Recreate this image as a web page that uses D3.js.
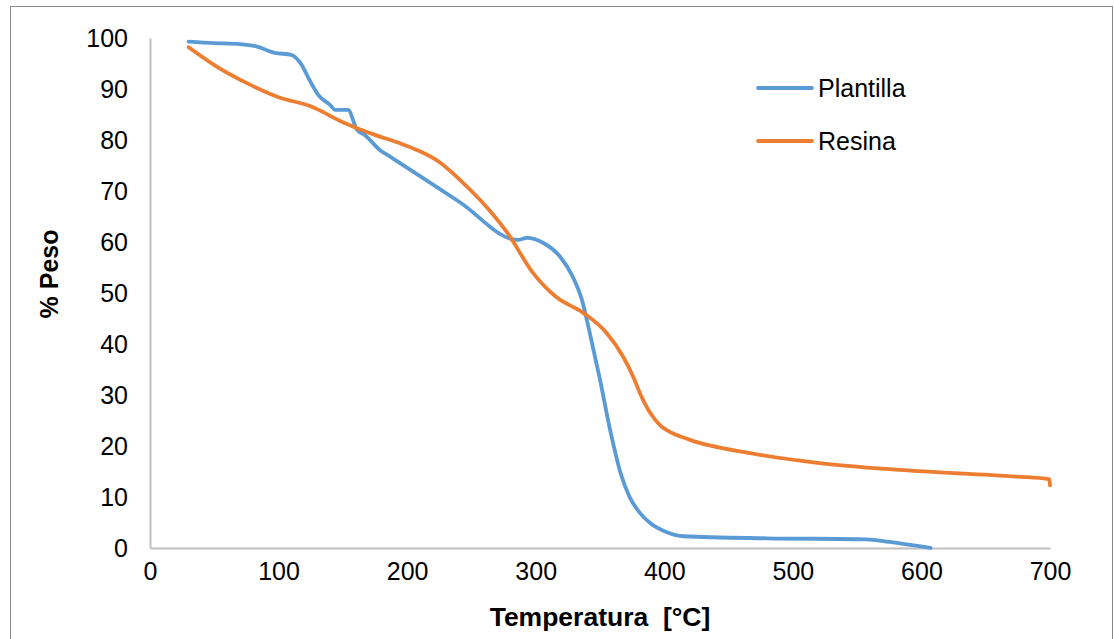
<!DOCTYPE html>
<html>
<head>
<meta charset="utf-8">
<script src="https://cdn.jsdelivr.net/npm/d3@7"></script>
<style>
  html, body { margin: 0; padding: 0; background: #fff; }
  svg text { font-family: "Liberation Sans", Arial, sans-serif; fill: #000; white-space: pre; }
</style>
</head>
<body>
<svg id="chart" width="1114" height="639"></svg>
<script>
// Data
const plantillaTemp = [30, 50, 70, 82, 97, 110, 118, 124, 131, 140, 144, 154, 161, 167, 179, 187, 241, 286, 293, 306, 319, 329, 336, 342, 350, 358, 366, 373, 381, 389, 402, 415, 480, 557, 575, 607];
const plantillaPeso = [99.3, 99.0, 98.8, 98.4, 97.1, 96.7, 94.7, 91.8, 88.8, 86.9, 85.9, 85.9, 82.0, 81.0, 78.0, 76.7, 67.8, 60.4, 60.8, 59.8, 57.1, 53.1, 48.6, 42.2, 33.0, 23.0, 14.7, 10.0, 6.9, 4.9, 3.1, 2.3, 1.9, 1.7, 1.2, 0.0];

const resinaTemp = [30, 50, 75, 100, 125, 150, 175, 194, 208, 225, 241, 257, 278, 298, 316, 337, 355, 368, 376, 381, 389, 397, 402, 420, 467, 519, 583, 674, 699.5, 700];
const resinaPeso = [98.2, 94.7, 91.2, 88.4, 86.6, 83.5, 81.0, 79.4, 78.0, 75.7, 72.2, 68.2, 61.8, 53.9, 49.2, 46.1, 42.2, 37.5, 33.5, 30.4, 26.5, 24.0, 23.1, 21.2, 18.6, 16.7, 15.3, 14.0, 13.5, 12.3];

const xTicks = [0, 100, 200, 300, 400, 500, 600, 700];
const yTicks = [0, 10, 20, 30, 40, 50, 60, 70, 80, 90, 100];
const seriesNames = ["Plantilla", "Resina"];
const seriesColors = ["#5B9BD5", "#ED7D31"];

const svg = d3.select("#chart");

// outer chart border
svg.append("rect")
  .attr("x", 10.5).attr("y", 6.5)
  .attr("width", 1102).attr("height", 640)
  .attr("fill", "#fff").attr("stroke", "#898989").attr("stroke-width", 1);

const x = d3.scaleLinear().domain([0, 700]).range([150, 1050]);
const y = d3.scaleLinear().domain([0, 100]).range([548, 38]);

// axes
const xAxis = d3.axisBottom(x).tickValues(xTicks).tickSize(0).tickPadding(14).tickFormat(d3.format("d"));
const yAxis = d3.axisLeft(y).tickValues(yTicks).tickSize(0).tickPadding(22).tickFormat(d3.format("d"));

const gx = svg.append("g").attr("transform", "translate(0,548)").call(xAxis);
const gy = svg.append("g").attr("transform", "translate(150,0)").call(yAxis);
[gx, gy].forEach(g => {
  g.select(".domain").attr("stroke", "#bfbfbf").attr("stroke-width", 2);
  g.selectAll("text").style("font-size", "25px").attr("fill", "#000");
});
gx.selectAll("text").attr("dy", "0.71em");

// lines
const line = d3.line()
  .x(d => x(d[0])).y(d => y(d[1]))
  .curve(d3.curveMonotoneX);

const series = [
  d3.zip(plantillaTemp, plantillaPeso),
  d3.zip(resinaTemp, resinaPeso)
];
series.forEach((s, i) => {
  svg.append("path")
    .datum(s)
    .attr("d", line)
    .attr("fill", "none")
    .attr("stroke", seriesColors[i])
    .attr("stroke-width", 3.8)
    .attr("stroke-linecap", "round")
    .attr("stroke-linejoin", "round");
});

// legend
const legendY = [88, 141];
seriesNames.forEach((n, i) => {
  svg.append("line")
    .attr("x1", 758).attr("x2", 812)
    .attr("y1", legendY[i]).attr("y2", legendY[i])
    .attr("stroke", seriesColors[i]).attr("stroke-width", 3.8)
    .attr("stroke-linecap", "round");
  svg.append("text")
    .attr("x", 818).attr("y", legendY[i])
    .attr("dy", "0.35em")
    .style("font-size", "25px")
    .text(n);
});

// axis titles
svg.append("text")
  .attr("x", 600).attr("y", 617)
  .attr("dy", "0.35em")
  .attr("text-anchor", "middle")
  .style("font-size", "26.5px").style("font-weight", "bold")
  .text("Temperatura  [°C]");

svg.append("text")
  .attr("transform", "translate(49,274) rotate(-90)")
  .attr("dy", "0.35em")
  .attr("text-anchor", "middle")
  .style("font-size", "25px").style("font-weight", "bold")
  .text("% Peso");
</script>
</body>
</html>
